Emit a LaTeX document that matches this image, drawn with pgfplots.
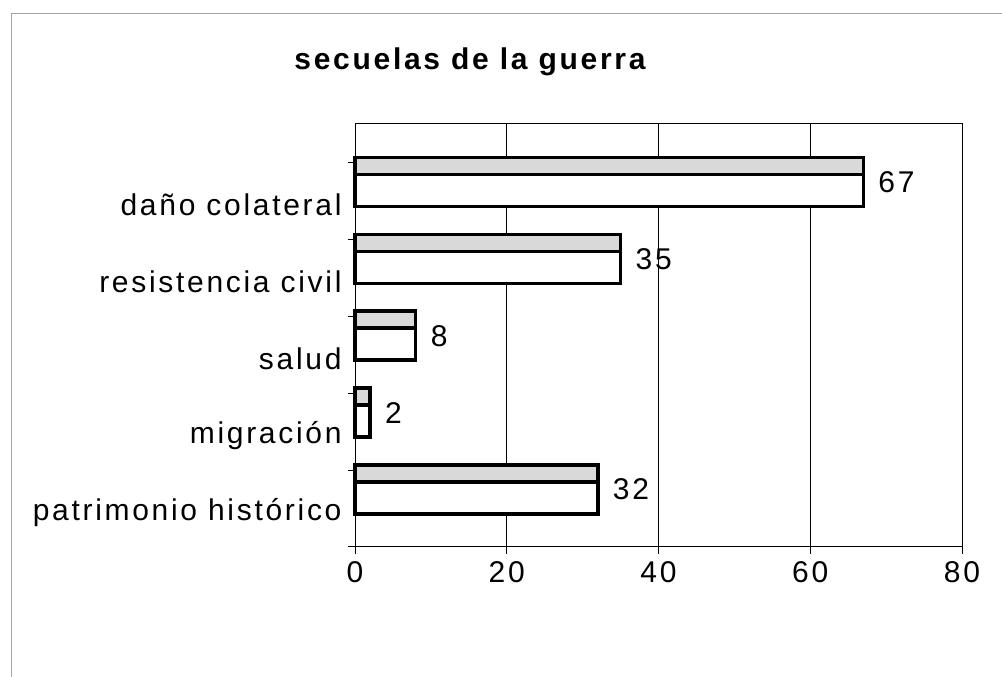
\documentclass[border=0pt]{standalone}
\usepackage{fontspec}
\setmainfont{Liberation Sans}[LetterSpace=9]
\newfontfamily\titlefont{Liberation Sans}[LetterSpace=9]
\usepackage{pgfplots}
\pgfplotsset{compat=1.18}
\begin{document}
\begin{tikzpicture}[x=1bp,y=1bp]
\useasboundingbox (0,0) rectangle (1002,677);
\draw[gray!70, line width=0.8bp] (11,0) -- (11,664) -- (1010,664);
\node[anchor=base, inner sep=0pt, font=\titlefont\bfseries\fontsize{30bp}{34bp}\selectfont] at (470,607) {secuelas de la guerra};
\begin{axis}[at={(355bp,130bp)}, anchor=south west, scale only axis,
  width=607bp, height=423bp,
  xmin=0, xmax=80, ymin=-0.5, ymax=5,
  xtick={0,20,...,80}, ytick={0,...,4},
  yticklabels={patrimonio histórico, migración, salud, resistencia civil, daño colateral},
  minor ytick={-0.5,0.5,...,4.5},
  major y tick style={draw=none},
  tick align=outside, tick pos=left,
  major tick length=7bp, minor tick length=7bp,
  xmajorgrids, grid style={black, line width=0.8bp},
  axis line style={black, line width=1bp},
  tick style={black, line width=1bp},
  /pgf/number format/assume math mode=true,
  xticklabel style={font=\fontsize{30bp}{34bp}\selectfont, yshift=-4bp},
  yticklabel style={font=\fontsize{30bp}{34bp}\selectfont, yshift=-4bp, xshift=-3bp},
  clip=false,
]
\addplot[xbar, fill=white, draw=black, line width=3.5bp, bar width=0.636, bar shift=0.247,
  nodes near coords, nodes near coords style={anchor=west, black, xshift=10bp, yshift=19bp, font=\fontsize{30bp}{34bp}\selectfont}]
  coordinates {(32,0) (2,1) (8,2) (35,3) (67,4)};
\addplot[xbar, fill=black!15, draw=black, line width=3.5bp, bar width=0.221, bar shift=0.455]
  coordinates {(32,0) (2,1) (8,2) (35,3) (67,4)};
\end{axis}
\end{tikzpicture}
\end{document}
